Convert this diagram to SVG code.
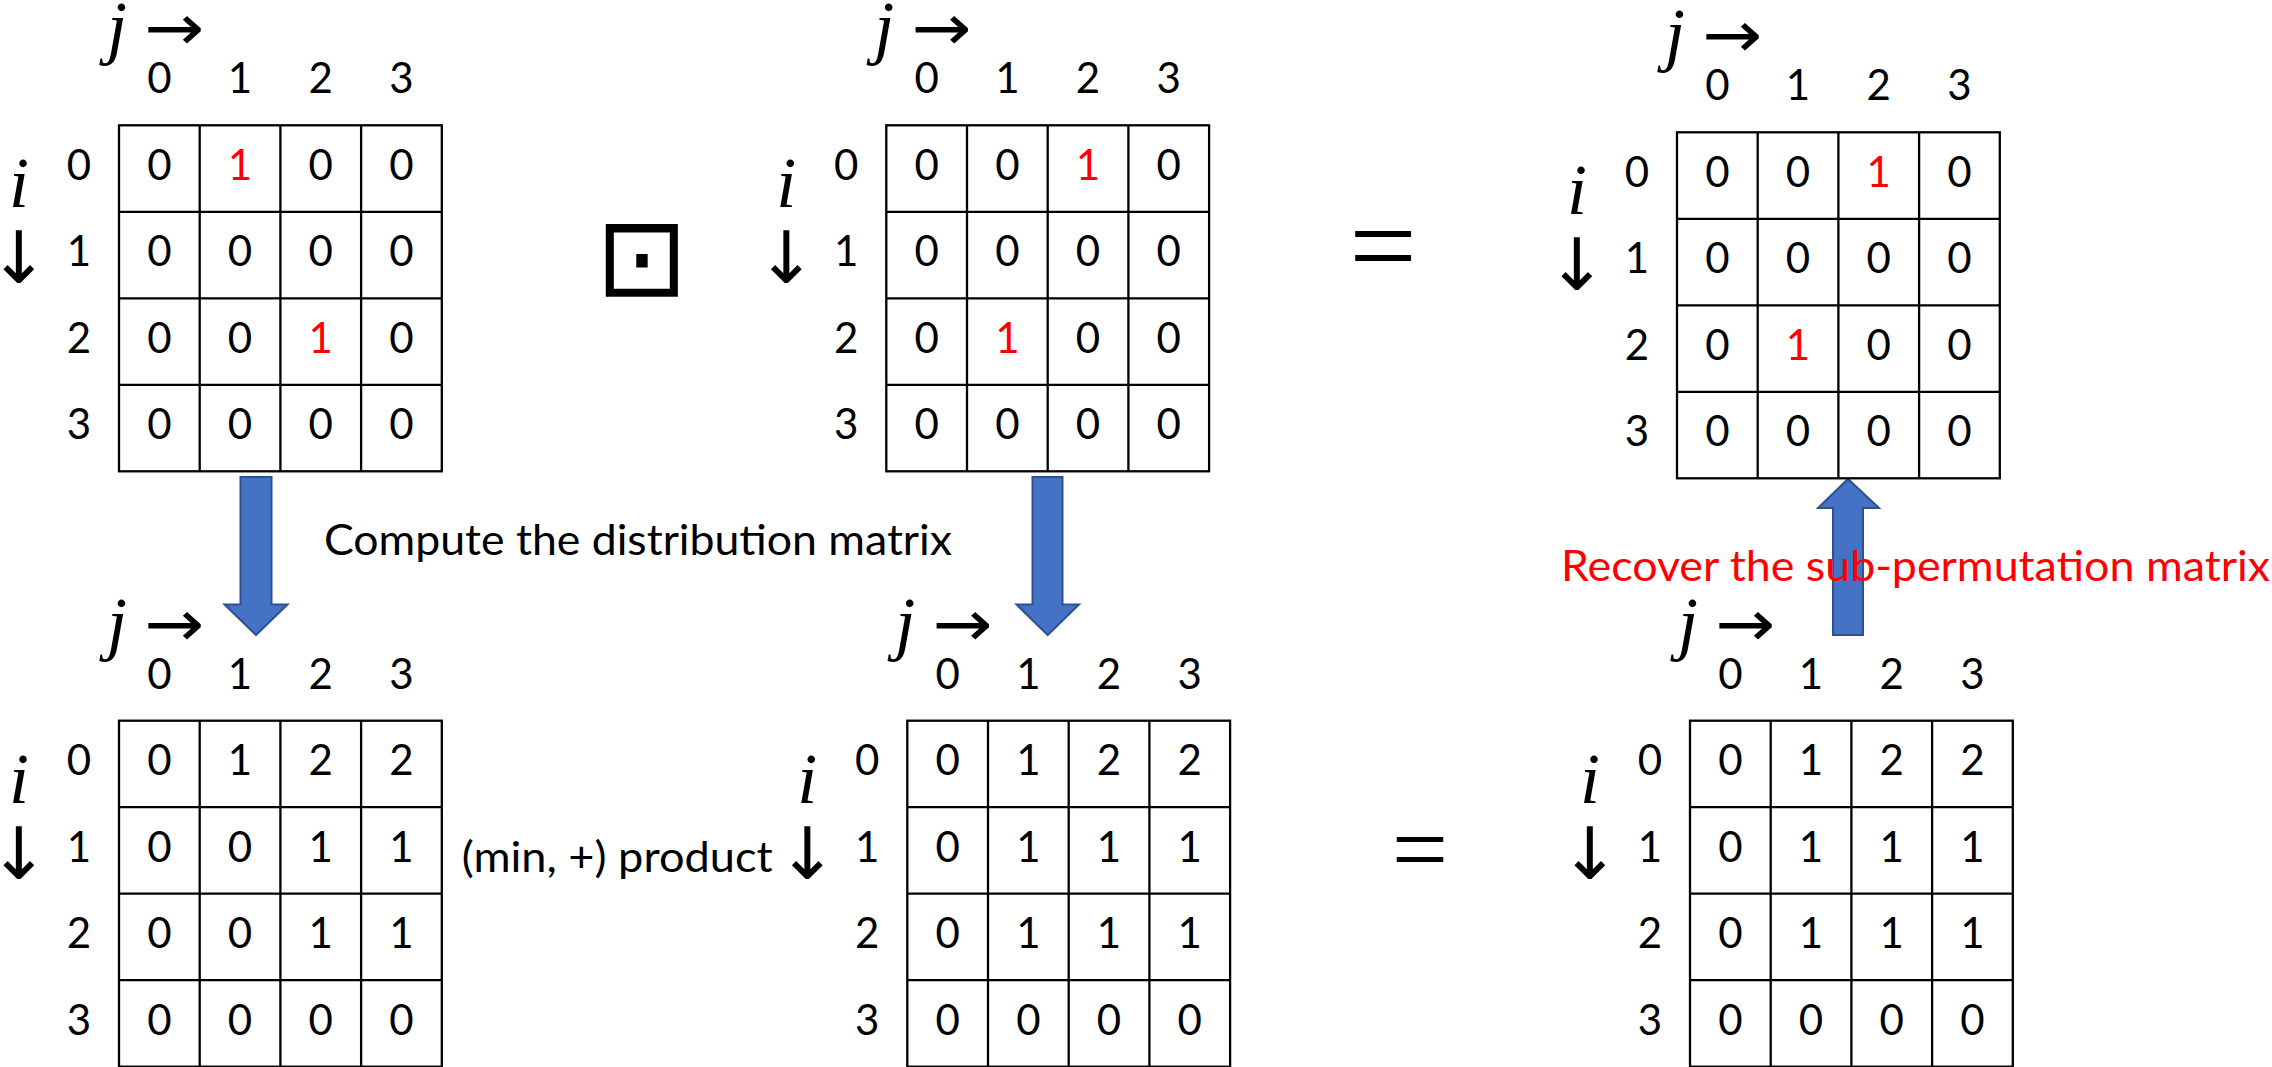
<svg xmlns="http://www.w3.org/2000/svg" xmlns:xlink="http://www.w3.org/1999/xlink" width="2272" height="1067" viewBox="0 0 2272 1067">
<style>
.g{fill:none;stroke:#000;stroke-width:2.3}
.n{font-family:Lato,'Liberation Sans',sans-serif;font-size:42px;text-anchor:middle;fill:#000}
.r{fill:#FF0000}
.m{font-family:'Liberation Serif','DejaVu Serif',serif;font-style:italic;font-size:72px;text-anchor:middle;fill:#000}
.a{font-family:'DejaVu Sans',sans-serif;font-size:72px;text-anchor:middle;fill:#000}
.ar{font-family:'DejaVu Sans',sans-serif;font-size:64px;text-anchor:middle;fill:#000}
.t{font-family:Lato,'Liberation Sans',sans-serif;font-size:42px;fill:#000}
.op{font-family:'Liberation Serif','DejaVu Serif',serif;text-anchor:middle;fill:#000}
.blue{fill:#4472C4;stroke:#2F528F;stroke-width:2}
</style>
<defs>
<g id="grid">
<rect class="g" x="0" y="0" width="322.8" height="346"/>
<path class="g" d="M80.7 0V346M161.4 0V346M242.1 0V346M0 86.5H322.8M0 173H322.8M0 259.5H322.8"/>
</g>
</defs>
<rect width="2272" height="1067" fill="#fff"/>

<g id="connectors">
<path class="blue" d="M240.5 477H271.5V604.5H287.5L256 635L224.5 604.5H240.5Z"/>
<path class="blue" d="M1032.5 477H1062.5V604.5H1079L1047.7 635L1016.5 604.5H1032.5Z"/>
<path class="blue" d="M1833 635V508H1818L1848 479L1879 508H1863V635Z"/>
</g>

<g id="matrixA" transform="translate(119,125.3)">
<use xlink:href="#grid"/>
<text class="m" x="-100" y="82">i</text><text class="a" x="-100" y="158">↓</text>
<text class="m" x="-2" y="-74">j</text><text class="ar" x="55" y="-75" textLength="60" lengthAdjust="spacingAndGlyphs">→</text>
<text class="n" x="40.35" y="-32">0</text><text class="n" x="121.05" y="-32">1</text><text class="n" x="201.75" y="-32">2</text><text class="n" x="282.45" y="-32">3</text>
<text class="n" x="-40" y="54.5">0</text><text class="n" x="-40" y="141">1</text><text class="n" x="-40" y="227.5">2</text><text class="n" x="-40" y="314">3</text>
<text class="n" x="40.35" y="54.5">0</text><text class="n r" x="121.05" y="54.5">1</text><text class="n" x="201.75" y="54.5">0</text><text class="n" x="282.45" y="54.5">0</text>
<text class="n" x="40.35" y="141">0</text><text class="n" x="121.05" y="141">0</text><text class="n" x="201.75" y="141">0</text><text class="n" x="282.45" y="141">0</text>
<text class="n" x="40.35" y="227.5">0</text><text class="n" x="121.05" y="227.5">0</text><text class="n r" x="201.75" y="227.5">1</text><text class="n" x="282.45" y="227.5">0</text>
<text class="n" x="40.35" y="314">0</text><text class="n" x="121.05" y="314">0</text><text class="n" x="201.75" y="314">0</text><text class="n" x="282.45" y="314">0</text>
</g>

<g id="matrixB" transform="translate(886.3,125.3)">
<use xlink:href="#grid"/>
<text class="m" x="-100" y="82">i</text><text class="a" x="-100" y="158">↓</text>
<text class="m" x="-2" y="-74">j</text><text class="ar" x="55" y="-75" textLength="60" lengthAdjust="spacingAndGlyphs">→</text>
<text class="n" x="40.35" y="-32">0</text><text class="n" x="121.05" y="-32">1</text><text class="n" x="201.75" y="-32">2</text><text class="n" x="282.45" y="-32">3</text>
<text class="n" x="-40" y="54.5">0</text><text class="n" x="-40" y="141">1</text><text class="n" x="-40" y="227.5">2</text><text class="n" x="-40" y="314">3</text>
<text class="n" x="40.35" y="54.5">0</text><text class="n" x="121.05" y="54.5">0</text><text class="n r" x="201.75" y="54.5">1</text><text class="n" x="282.45" y="54.5">0</text>
<text class="n" x="40.35" y="141">0</text><text class="n" x="121.05" y="141">0</text><text class="n" x="201.75" y="141">0</text><text class="n" x="282.45" y="141">0</text>
<text class="n" x="40.35" y="227.5">0</text><text class="n r" x="121.05" y="227.5">1</text><text class="n" x="201.75" y="227.5">0</text><text class="n" x="282.45" y="227.5">0</text>
<text class="n" x="40.35" y="314">0</text><text class="n" x="121.05" y="314">0</text><text class="n" x="201.75" y="314">0</text><text class="n" x="282.45" y="314">0</text>
</g>

<g id="matrixC" transform="translate(1677,132.3)">
<use xlink:href="#grid"/>
<text class="m" x="-100" y="82">i</text><text class="a" x="-100" y="158">↓</text>
<text class="m" x="-2" y="-74">j</text><text class="ar" x="55" y="-75" textLength="60" lengthAdjust="spacingAndGlyphs">→</text>
<text class="n" x="40.35" y="-32">0</text><text class="n" x="121.05" y="-32">1</text><text class="n" x="201.75" y="-32">2</text><text class="n" x="282.45" y="-32">3</text>
<text class="n" x="-40" y="54.5">0</text><text class="n" x="-40" y="141">1</text><text class="n" x="-40" y="227.5">2</text><text class="n" x="-40" y="314">3</text>
<text class="n" x="40.35" y="54.5">0</text><text class="n" x="121.05" y="54.5">0</text><text class="n r" x="201.75" y="54.5">1</text><text class="n" x="282.45" y="54.5">0</text>
<text class="n" x="40.35" y="141">0</text><text class="n" x="121.05" y="141">0</text><text class="n" x="201.75" y="141">0</text><text class="n" x="282.45" y="141">0</text>
<text class="n" x="40.35" y="227.5">0</text><text class="n r" x="121.05" y="227.5">1</text><text class="n" x="201.75" y="227.5">0</text><text class="n" x="282.45" y="227.5">0</text>
<text class="n" x="40.35" y="314">0</text><text class="n" x="121.05" y="314">0</text><text class="n" x="201.75" y="314">0</text><text class="n" x="282.45" y="314">0</text>
</g>

<g id="matrixD" transform="translate(119,720.7)">
<use xlink:href="#grid"/>
<text class="m" x="-100" y="82">i</text><text class="a" x="-100" y="158">↓</text>
<text class="m" x="-2" y="-74">j</text><text class="ar" x="55" y="-75" textLength="60" lengthAdjust="spacingAndGlyphs">→</text>
<text class="n" x="40.35" y="-32">0</text><text class="n" x="121.05" y="-32">1</text><text class="n" x="201.75" y="-32">2</text><text class="n" x="282.45" y="-32">3</text>
<text class="n" x="-40" y="54.5">0</text><text class="n" x="-40" y="141">1</text><text class="n" x="-40" y="227.5">2</text><text class="n" x="-40" y="314">3</text>
<text class="n" x="40.35" y="54.5">0</text><text class="n" x="121.05" y="54.5">1</text><text class="n" x="201.75" y="54.5">2</text><text class="n" x="282.45" y="54.5">2</text>
<text class="n" x="40.35" y="141">0</text><text class="n" x="121.05" y="141">0</text><text class="n" x="201.75" y="141">1</text><text class="n" x="282.45" y="141">1</text>
<text class="n" x="40.35" y="227.5">0</text><text class="n" x="121.05" y="227.5">0</text><text class="n" x="201.75" y="227.5">1</text><text class="n" x="282.45" y="227.5">1</text>
<text class="n" x="40.35" y="314">0</text><text class="n" x="121.05" y="314">0</text><text class="n" x="201.75" y="314">0</text><text class="n" x="282.45" y="314">0</text>
</g>

<g id="matrixE" transform="translate(907.3,720.7)">
<use xlink:href="#grid"/>
<text class="m" x="-100" y="82">i</text><text class="a" x="-100" y="158">↓</text>
<text class="m" x="-2" y="-74">j</text><text class="ar" x="55" y="-75" textLength="60" lengthAdjust="spacingAndGlyphs">→</text>
<text class="n" x="40.35" y="-32">0</text><text class="n" x="121.05" y="-32">1</text><text class="n" x="201.75" y="-32">2</text><text class="n" x="282.45" y="-32">3</text>
<text class="n" x="-40" y="54.5">0</text><text class="n" x="-40" y="141">1</text><text class="n" x="-40" y="227.5">2</text><text class="n" x="-40" y="314">3</text>
<text class="n" x="40.35" y="54.5">0</text><text class="n" x="121.05" y="54.5">1</text><text class="n" x="201.75" y="54.5">2</text><text class="n" x="282.45" y="54.5">2</text>
<text class="n" x="40.35" y="141">0</text><text class="n" x="121.05" y="141">1</text><text class="n" x="201.75" y="141">1</text><text class="n" x="282.45" y="141">1</text>
<text class="n" x="40.35" y="227.5">0</text><text class="n" x="121.05" y="227.5">1</text><text class="n" x="201.75" y="227.5">1</text><text class="n" x="282.45" y="227.5">1</text>
<text class="n" x="40.35" y="314">0</text><text class="n" x="121.05" y="314">0</text><text class="n" x="201.75" y="314">0</text><text class="n" x="282.45" y="314">0</text>
</g>

<g id="matrixF" transform="translate(1690,720.7)">
<use xlink:href="#grid"/>
<text class="m" x="-100" y="82">i</text><text class="a" x="-100" y="158">↓</text>
<text class="m" x="-2" y="-74">j</text><text class="ar" x="55" y="-75" textLength="60" lengthAdjust="spacingAndGlyphs">→</text>
<text class="n" x="40.35" y="-32">0</text><text class="n" x="121.05" y="-32">1</text><text class="n" x="201.75" y="-32">2</text><text class="n" x="282.45" y="-32">3</text>
<text class="n" x="-40" y="54.5">0</text><text class="n" x="-40" y="141">1</text><text class="n" x="-40" y="227.5">2</text><text class="n" x="-40" y="314">3</text>
<text class="n" x="40.35" y="54.5">0</text><text class="n" x="121.05" y="54.5">1</text><text class="n" x="201.75" y="54.5">2</text><text class="n" x="282.45" y="54.5">2</text>
<text class="n" x="40.35" y="141">0</text><text class="n" x="121.05" y="141">1</text><text class="n" x="201.75" y="141">1</text><text class="n" x="282.45" y="141">1</text>
<text class="n" x="40.35" y="227.5">0</text><text class="n" x="121.05" y="227.5">1</text><text class="n" x="201.75" y="227.5">1</text><text class="n" x="282.45" y="227.5">1</text>
<text class="n" x="40.35" y="314">0</text><text class="n" x="121.05" y="314">0</text><text class="n" x="201.75" y="314">0</text><text class="n" x="282.45" y="314">0</text>
</g>

<g id="operators">
<text class="op" x="641.8" y="295" style="font-family:'DejaVu Sans',sans-serif;font-size:110px">⊡</text>
<text class="op" x="1383" y="286" style="font-size:120px">=</text>
<text class="op" x="1420" y="883" style="font-size:100px">=</text>
</g>

<g id="labels">
<text class="t" x="324" y="555" textLength="628" lengthAdjust="spacingAndGlyphs">Compute the distribution matrix</text>
<text class="t" x="461.7" y="872" textLength="311" lengthAdjust="spacingAndGlyphs">(min, +) product</text>
<text class="t" x="1561" y="581" textLength="709" lengthAdjust="spacingAndGlyphs" style="fill:#FF0000">Recover the sub-permutation matrix</text>
</g>
</svg>
